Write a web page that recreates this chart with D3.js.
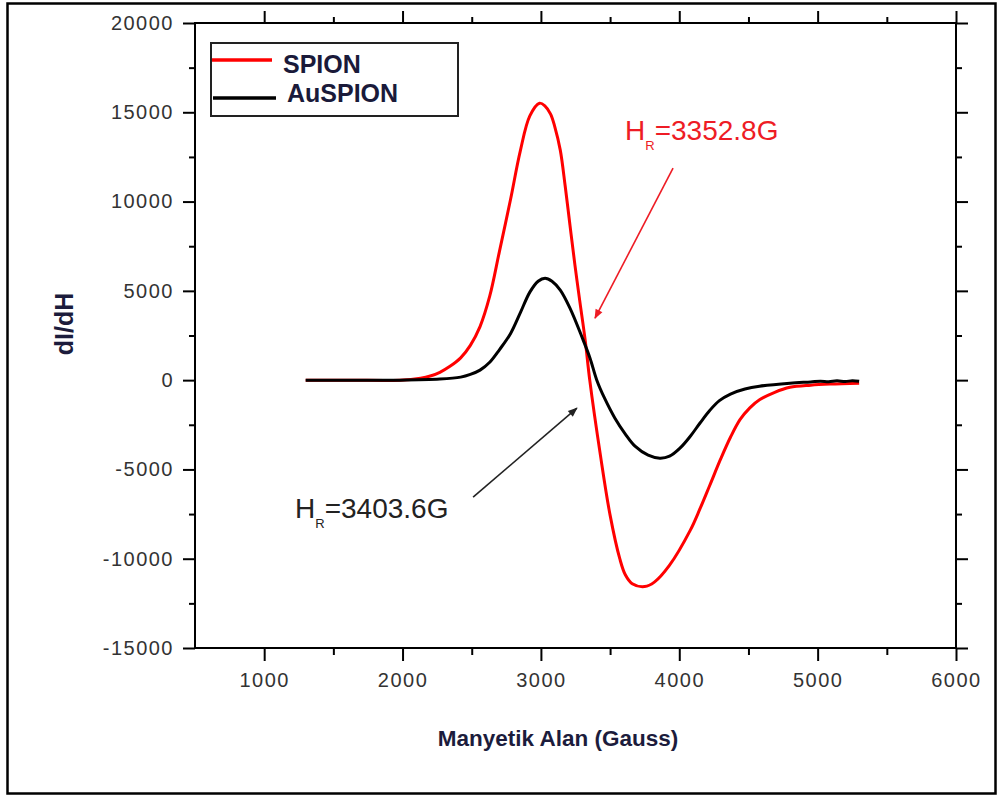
<!DOCTYPE html>
<html>
<head>
<meta charset="utf-8">
<script src="https://cdn.jsdelivr.net/npm/d3@7"></script>
<style>
  body { margin: 0; background: #fff; }
  svg { display: block; }
</style>
</head>
<body>
<svg id="chart" width="1003" height="796"></svg>
<script>
// field values in Gauss, readings in dI/dH
var spionField = [1300, 1620, 1980, 2130, 2200, 2270, 2340, 2420, 2490, 2560, 2630, 2700, 2780, 2850, 2920, 2990, 3030, 3070, 3100, 3140, 3175, 3210, 3245, 3280, 3320, 3353, 3430, 3500, 3570, 3610, 3660, 3750, 3820, 3930, 4080, 4150, 4220, 4300, 4370, 4440, 4510, 4580, 4690, 4800, 4950, 5090, 5300];
var spionValue = [0, 0, 0, 110, 230, 440, 760, 1250, 1950, 3000, 4700, 7200, 10100, 12800, 14800, 15510, 15350, 14900, 14200, 12880, 10900, 8680, 6500, 4480, 2240, 0, -4200, -7560, -10000, -10900, -11400, -11560, -11310, -10360, -8400, -7200, -5900, -4400, -3200, -2200, -1550, -1100, -680, -400, -280, -220, -170];

var auField = [1300, 1980, 2270, 2420, 2490, 2560, 2630, 2700, 2780, 2850, 2920, 2980, 3030, 3080, 3140, 3210, 3300, 3355, 3404, 3460, 3535, 3610, 3680, 3775, 3860, 3930, 4005, 4080, 4150, 4220, 4290, 4370, 4475, 4580, 4800, 4950, 5020, 5080, 5140, 5200, 5250, 5300];
var auValue = [0, 0, 60, 170, 320, 560, 1000, 1700, 2600, 3750, 4930, 5540, 5710, 5540, 5040, 4030, 2350, 1230, 0, -1010, -2130, -3020, -3700, -4200, -4370, -4260, -3810, -3140, -2400, -1700, -1150, -780, -500, -340, -170, -100, -60, -90, -40, -80, -30, -60];

var xTicks = [1000, 2000, 3000, 4000, 5000, 6000];
var xMinor = [1500, 2500, 3500, 4500, 5500];
var yTicks = [-15000, -10000, -5000, 0, 5000, 10000, 15000, 20000];
var yMinor = [-12500, -7500, -2500, 2500, 7500, 12500, 17500];

var seriesNames = ["SPION", "AuSPION"];
var seriesColors = ["#ff0000", "#000000"];

// annotations: label anchor and arrow [from, to] in data units
var notes = [
  { label: "3352.8G", color: "#ee1c25", at: [3608, 13440], from: [3955, 11870], to: [3391, 3470] },
  { label: "3403.6G", color: "#222222", at: [1223, -7730], from: [2510, -6550], to: [3260, -1570] }
];

var svg = d3.select("#chart");
var pLeft = 195, pRight = 956, pTop = 23, pBottom = 648;

var x = d3.scaleLinear().domain([500, 6000]).range([pLeft, pRight]);
var y = d3.scaleLinear().domain([-15000, 20000]).range([pBottom, pTop]);

// outer frame
svg.append("rect")
  .attr("x", 7.5).attr("y", 3.5)
  .attr("width", 988).attr("height", 790)
  .attr("fill", "white")
  .attr("stroke", "black")
  .attr("stroke-width", 2.5);

function styleAxis(g) {
  g.select(".domain").remove();
  g.selectAll("line").attr("stroke", "black").attr("stroke-width", 2);
  g.selectAll("text")
    .style("font-family", "'Liberation Sans', Arial, sans-serif")
    .style("font-size", "20px")
    .style("letter-spacing", "1.5px")
    .attr("fill", "#333");
}

var plain = function(d) { return String(d); };

svg.append("g").attr("transform", "translate(0," + pBottom + ")")
  .call(d3.axisBottom(x).tickValues(xTicks).tickSize(13).tickPadding(12).tickFormat(plain))
  .call(styleAxis);
svg.append("g").attr("transform", "translate(0," + pBottom + ")")
  .call(d3.axisBottom(x).tickValues(xMinor).tickSize(7).tickFormat(""))
  .call(styleAxis);
svg.append("g").attr("transform", "translate(0," + pTop + ")")
  .call(d3.axisTop(x).tickValues(xTicks).tickSize(12).tickFormat(""))
  .call(styleAxis);
svg.append("g").attr("transform", "translate(0," + pTop + ")")
  .call(d3.axisTop(x).tickValues(xMinor).tickSize(6).tickFormat(""))
  .call(styleAxis);

svg.append("g").attr("transform", "translate(" + pLeft + ",0)")
  .call(d3.axisLeft(y).tickValues(yTicks).tickSize(12).tickPadding(9).tickFormat(plain))
  .call(styleAxis);
svg.append("g").attr("transform", "translate(" + pLeft + ",0)")
  .call(d3.axisLeft(y).tickValues(yMinor).tickSize(6).tickFormat(""))
  .call(styleAxis);
svg.append("g").attr("transform", "translate(" + pRight + ",0)")
  .call(d3.axisRight(y).tickValues(yTicks).tickSize(12).tickFormat(""))
  .call(styleAxis);
svg.append("g").attr("transform", "translate(" + pRight + ",0)")
  .call(d3.axisRight(y).tickValues(yMinor).tickSize(6).tickFormat(""))
  .call(styleAxis);

// plot frame
svg.append("rect")
  .attr("x", pLeft).attr("y", pTop)
  .attr("width", pRight - pLeft).attr("height", pBottom - pTop)
  .attr("fill", "none")
  .attr("stroke", "black")
  .attr("stroke-width", 2);

// curves
var line = d3.line()
  .x(function(d) { return x(d[0]); })
  .y(function(d) { return y(d[1]); })
  .curve(d3.curveCatmullRom.alpha(0.5));

var spionData = spionField.map(function(f, i) { return [f, spionValue[i]]; });
var auData = auField.map(function(f, i) { return [f, auValue[i]]; });

[spionData, auData].forEach(function(data, i) {
  svg.append("path")
    .datum(data)
    .attr("d", line)
    .attr("fill", "none")
    .attr("stroke", seriesColors[i])
    .attr("stroke-width", 3)
    .attr("stroke-linejoin", "round");
});

// legend
svg.append("rect")
  .attr("x", 211).attr("y", 43)
  .attr("width", 247).attr("height", 73)
  .attr("fill", "white")
  .attr("stroke", "#222")
  .attr("stroke-width", 2);

var legendRows = [
  { y: 60, x1: 212, x2: 272, tx: 283, ty: 73 },
  { y: 98, x1: 213, x2: 276, tx: 287, ty: 102 }
];
legendRows.forEach(function(r, i) {
  svg.append("line")
    .attr("x1", r.x1).attr("x2", r.x2)
    .attr("y1", r.y).attr("y2", r.y)
    .attr("stroke", seriesColors[i])
    .attr("stroke-width", 3.5);
  svg.append("text")
    .attr("x", r.tx).attr("y", r.ty)
    .style("font-family", "'Liberation Sans', Arial, sans-serif")
    .style("font-weight", "bold")
    .style("font-size", "25px")
    .attr("fill", "#1a1a3a")
    .text(seriesNames[i]);
});

// annotations
var defs = svg.append("defs");
notes.forEach(function(n, i) {
  defs.append("marker")
    .attr("id", "arrow" + i)
    .attr("viewBox", "0 0 10 10")
    .attr("refX", 9).attr("refY", 5)
    .attr("markerWidth", 7).attr("markerHeight", 6)
    .attr("markerUnits", "strokeWidth")
    .attr("orient", "auto")
    .append("path")
    .attr("d", "M0,1 L10,5 L0,9 Z")
    .attr("fill", n.color);

  svg.append("line")
    .attr("x1", x(n.from[0])).attr("y1", y(n.from[1]))
    .attr("x2", x(n.to[0])).attr("y2", y(n.to[1]))
    .attr("stroke", n.color)
    .attr("stroke-width", 1.6)
    .attr("marker-end", "url(#arrow" + i + ")");

  var t = svg.append("text")
    .attr("x", x(n.at[0])).attr("y", y(n.at[1]))
    .style("font-family", "'Liberation Sans', Arial, sans-serif")
    .style("font-size", "28px")
    .attr("fill", n.color);
  t.append("tspan").text("H");
  t.append("tspan").attr("dy", 10).style("font-size", "13px").text("R");
  t.append("tspan").attr("dy", -10).text("=" + n.label);
});

// axis titles
svg.append("text")
  .attr("x", 558).attr("y", 746)
  .attr("text-anchor", "middle")
  .style("font-family", "'Liberation Sans', Arial, sans-serif")
  .style("font-weight", "bold")
  .style("font-size", "22.5px")
  .attr("fill", "#1c1c3c")
  .text("Manyetik Alan (Gauss)");

svg.append("text")
  .attr("transform", "translate(73,324)rotate(-90)")
  .attr("text-anchor", "middle")
  .style("font-family", "'Liberation Sans', Arial, sans-serif")
  .style("font-weight", "bold")
  .style("font-size", "25px")
  .attr("fill", "#1c1c3c")
  .text("dI/dH");
</script>
</body>
</html>
